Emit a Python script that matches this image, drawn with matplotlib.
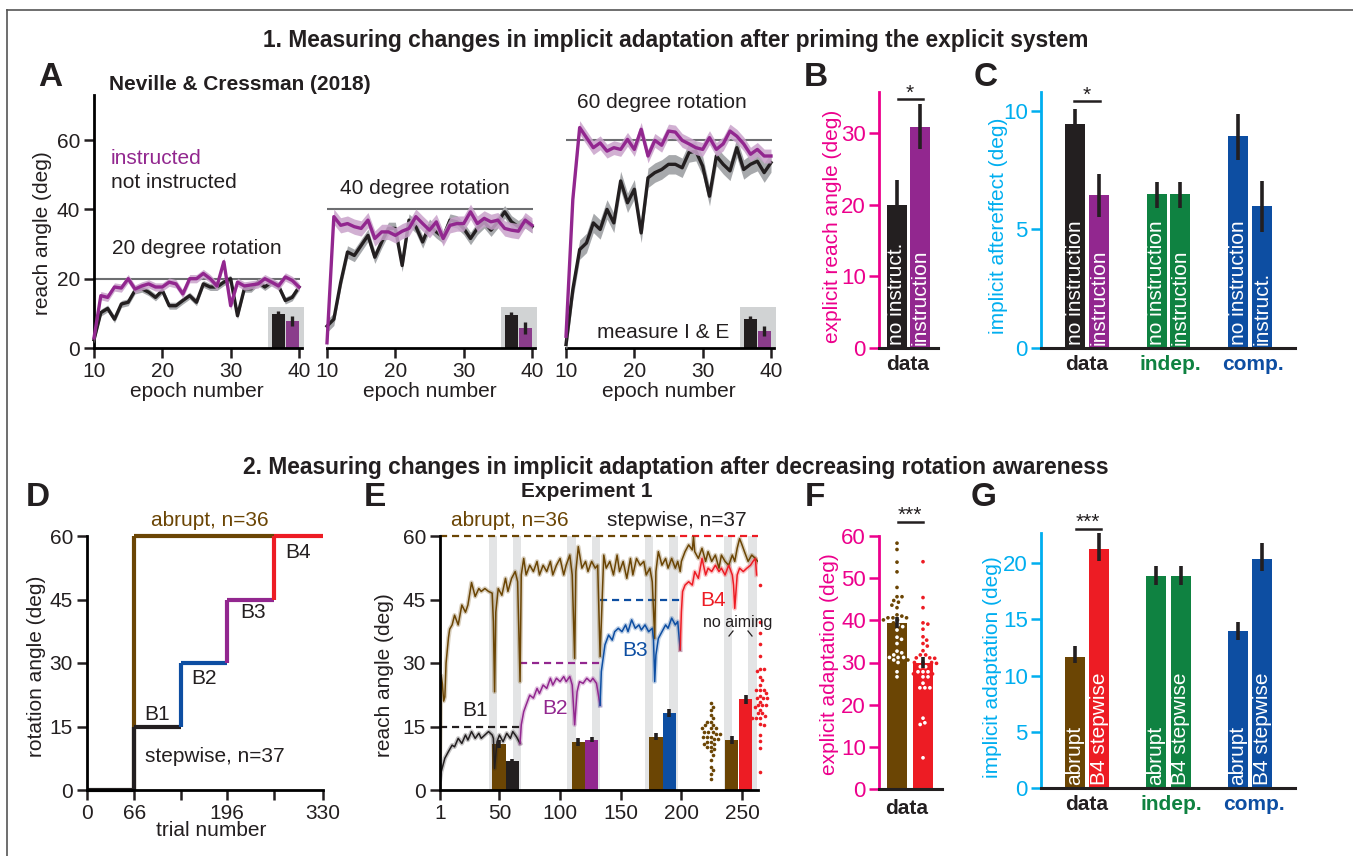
import numpy as np
import matplotlib.pyplot as plt
from matplotlib.lines import Line2D
from matplotlib.patches import Rectangle

plt.rcParams['font.family'] = ['Liberation Sans', 'DejaVu Sans']
plt.rcParams['font.size'] = 15

# ---------------- data ----------------
epochs = list(range(10, 41))

# panel A : 20, 40, 60 degree rotation (instructed / not instructed)
a20_inst = [2.9, 15.1, 14.6, 17.6, 17.3, 20.0, 17.0, 17.9, 18.5, 17.6, 17.6, 19.0, 18.5, 15.6, 20.0, 20.0,
            21.5, 20.0, 17.9, 24.9, 12.2, 19.0, 17.9, 18.2, 18.5, 20.0, 19.0, 17.9, 20.5, 19.5, 17.6]
a20_none = [2.4, 10.2, 11.4, 8.3, 12.7, 13.2, 16.6, 17.1, 16.1, 14.6, 16.6, 12.2, 12.2, 13.7, 15.1, 13.2,
            18.5, 17.6, 17.6, 19.0, 20.0, 9.3, 17.1, 17.1, 19.0, 17.6, 19.0, 17.9, 13.7, 14.6, 17.6]
a40_inst = [1.5, 37.9, 35.4, 35.9, 35.0, 34.5, 36.9, 31.6, 33.5, 33.5, 32.5, 33.7, 34.5, 37.9, 35.9, 34.0,
            36.4, 31.6, 35.4, 35.9, 35.9, 39.3, 35.9, 37.4, 36.4, 36.9, 34.5, 34.0, 33.7, 36.9, 35.4]
a40_none = [6.3, 8.3, 18.9, 27.7, 26.7, 29.6, 32.5, 26.2, 30.6, 34.5, 34.5, 23.8, 36.9, 35.0, 30.6, 35.4,
            33.5, 32.0, 36.9, 36.4, 34.5, 31.6, 34.5, 36.4, 34.0, 36.4, 39.3, 36.4, 35.0, 36.4, 35.0]
a60_inst = [3.4, 42.9, 63.6, 60.7, 57.8, 59.2, 56.8, 57.8, 57.3, 60.2, 57.3, 63.1, 55.4, 59.9, 58.5, 62.6,
            62.3, 59.9, 58.9, 57.8, 57.3, 60.7, 57.3, 58.9, 62.6, 61.1, 58.9, 55.9, 57.3, 55.4, 55.4]
a60_none = [1.0, 16.9, 28.4, 30.3, 36.1, 34.2, 40.0, 36.1, 48.2, 41.9, 45.8, 33.2, 49.1, 50.6, 51.5, 53.0,
            53.0, 52.0, 56.4, 56.8, 52.5, 43.8, 55.4, 53.0, 51.1, 57.8, 51.5, 53.0, 53.9, 50.6, 53.5]
a_sem_inst = [1.2, 2.2, 2.0]
a_sem_none = [1.0, 1.8, 2.8]
a_rotations = [20, 40, 60]
a_inset_vals = [[9.8, 7.8], [9.5, 5.7], [8.3, 4.9]]
a_inset_err = [[1.0, 1.5], [1.0, 1.7], [0.9, 1.5]]

# panel B / C
b_vals = [19.9, 30.8]
b_lo = [16.4, 27.7]
b_hi = [23.4, 34.0]
b_names = ['no instruct.', 'instruction']
c_vals = [9.45, 6.46, 6.5, 6.5, 8.95, 6.0]
c_lo = [8.8, 5.54, 5.92, 5.92, 7.93, 4.9]
c_hi = [10.1, 7.33, 6.99, 6.99, 9.87, 7.05]
c_names = ['no instruction', 'instruction', 'no instruction', 'instruction', 'no instruction', 'instruct.']
groups = ['data', 'indep.', 'comp.']

# panel D : rotation schedule
d_step_edges = [0, 66, 131, 196, 262, 330]
d_step_rot = [0, 15, 30, 45, 60]
d_abrupt_edges = [0, 66, 262]
d_abrupt_rot = [0, 60]

# panel E : reach angle time courses
e_abrupt_t = [1, 2, 3, 4, 5, 6, 7, 8, 9, 11, 13, 16, 19, 22, 24, 27, 30, 33, 35, 38, 41, 44, 45, 46, 47,
              49, 52, 55, 57, 60, 63, 65, 67, 68, 70, 72, 75, 78, 81, 83, 86, 89, 92, 94, 97, 100, 103,
              105, 108, 110, 112, 113, 115, 118, 121, 123, 126, 129, 131, 133, 136, 138, 141, 144, 147,
              149, 152, 155, 158, 160, 163, 166, 169, 171, 174, 176, 178, 179, 181, 184, 187, 189, 192,
              195, 197, 199, 200, 203, 206, 209, 210, 211, 214, 217, 220, 222, 225, 228, 231, 233, 236,
              239, 242, 244, 246, 248, 250, 252, 255, 258, 261, 263]
e_abrupt_v = [8, 27, 25, 21, 22, 30, 33, 36, 38, 39, 41.3, 39, 43.7, 42, 43.7, 49, 45.7, 47.6, 46.9, 47.6,
              46.9, 46.5, 39.8, 23.2, 42, 47.6, 46, 50, 46.9, 50, 51.6, 49.2, 25.6, 50.8, 54.7, 50.8, 53.1,
              51.6, 54, 50.8, 53.1, 51.6, 54, 50.8, 53.1, 54.7, 50.8, 53.1, 55.5, 50.8, 31.1, 51.6, 57.5,
              52.4, 54, 51.6, 54, 52.4, 53.1, 31.5, 55.5, 52.4, 54, 50.8, 55.5, 51.6, 54, 50, 54.7, 50.8,
              54.7, 53.1, 54, 50.8, 52.4, 49.2, 35.8, 51.6, 56.3, 53.1, 54.7, 52.4, 54.7, 52.4, 54, 51.6,
              54, 56.3, 57.9, 56.7, 59.8, 56.3, 54.7, 57.1, 54, 56.3, 54, 55.5, 52.4, 55.5, 54, 53.1, 55.5,
              54, 57.1, 59.4, 57.9, 56.3, 54, 55.5, 54.7, 54]
e_b1_t = [1, 2, 5, 8, 11, 13, 16, 19, 22, 24, 27, 30, 33, 35, 38, 41, 44, 45, 46, 48, 50, 53, 56, 59, 61, 64, 67]
e_b1_v = [2.4, 4.3, 7.5, 9.1, 10.6, 10.2, 12.2, 11, 13, 11.8, 13.8, 12.2, 13.4, 12.2, 13, 13.8, 13, 12.2,
          5.1, 11.4, 13, 11.4, 13.4, 12.2, 13.8, 12.6, 11]
e_b2_t = [67, 68, 70, 72, 75, 78, 81, 83, 86, 89, 92, 94, 97, 100, 103, 105, 108, 110, 112, 114, 116, 119,
          122, 125, 127, 130, 133]
e_b2_v = [11, 15.4, 18.5, 20.1, 22.4, 21.7, 24, 22.8, 24.8, 24, 26.4, 24.8, 26.4, 25.6, 26.8, 25.6, 26.8,
          24.8, 15.4, 23.2, 25.6, 25.2, 26.4, 25.6, 26.4, 25.2, 20]
e_b3_t = [133, 134, 137, 140, 143, 145, 148, 151, 154, 156, 159, 162, 165, 167, 170, 173, 176, 177, 178,
          179, 181, 184, 187, 189, 192, 195, 197, 199]
e_b3_v = [20, 28, 34.3, 36.6, 35.4, 37.4, 38.2, 37.4, 39, 37.4, 40.2, 38.2, 39, 37.8, 39, 37.4, 38.2, 35.8,
          25.6, 31.9, 35.8, 37.4, 39, 38.2, 40.6, 39, 39.8, 33.1]
e_b4_t = [199, 200, 201, 203, 206, 209, 211, 214, 217, 220, 222, 225, 228, 231, 233, 236, 239, 242, 243,
          244, 246, 248, 251, 254, 257, 259, 261, 262]
e_b4_v = [33.1, 42.1, 46.9, 48.4, 49.2, 48.4, 51.6, 50, 54.7, 50.8, 52.4, 51.6, 53.1, 51.6, 52.4, 50.8,
          53.1, 50.8, 48.4, 42.9, 50.8, 52.4, 51.6, 52.4, 53.1, 54, 54.7, 50.8]
e_noaim_blocks = [(41, 48), (61, 68), (106, 113), (126, 133), (170, 177), (190, 197), (235, 242), (255, 262)]
e_bar_vals = [10.8, 6.8, 11.4, 11.9, 12.6, 18.2, 11.8, 21.4]
e_bar_err = [0.9, 0.5, 0.9, 0.6, 0.8, 0.9, 0.9, 1.1]
e_abrupt_dots = [20.5, 19.7, 18.9, 17.7, 16.9, 16.1, 16.1, 15.3, 15.3, 14.6, 14.6, 14.6, 13.8, 13.8, 13.8,
                 13.2, 13.2, 12.6, 12.6, 12.6, 12.0, 12.0, 11.4, 11.4, 10.8, 10.8, 10.2, 10.2, 9.7, 9.1,
                 8.3, 7.1, 5.5, 4.7, 3.8, 2.6]
e_step_dots = [48.4, 39.8, 37.0, 34.5, 31.7, 28.7, 28.7, 28.0, 26.8, 26.0, 24.8, 23.6, 23.6, 23.6, 22.8,
               22.2, 21.7, 21.7, 21.7, 20.9, 20.1, 20.1, 20.1, 19.5, 18.9, 18.1, 18.1, 17.5, 16.9, 16.9,
               16.9, 15.7, 15.4, 13.0, 11.6, 10.0, 4.2]

# panel F / G
f_vals = [39.4, 30.0]
f_err = [1.3, 1.3]
f_abrupt_dots = [58.3, 56.8, 53.8, 51.5, 47.8, 45.6, 45.6, 44.7, 44.3, 43.6, 43.0, 41.3, 41.0, 40.6, 40.6,
                 40.6, 40.1, 40.1, 39.4, 38.9, 38.5, 37.7, 36.0, 35.5, 34.5, 32.7, 32.3, 31.8, 31.2, 31.2,
                 31.2, 30.6, 30.6, 30.0, 27.8, 26.6]
f_step_dots = [53.9, 45.4, 43.0, 39.4, 39.1, 37.9, 36.1, 35.3, 34.5, 33.9, 32.8, 31.8, 31.8, 31.1, 31.1,
               31.0, 30.0, 30.0, 30.0, 29.8, 29.0, 29.0, 27.8, 27.8, 27.8, 27.3, 27.3, 26.6, 26.6, 25.1,
               24.0, 24.0, 24.0, 16.8, 15.7, 15.3, 7.4]
g_vals = [11.7, 21.3, 18.9, 18.9, 14.0, 20.4]
g_lo = [11.1, 20.2, 18.1, 18.1, 13.2, 19.3]
g_hi = [12.6, 22.85, 19.8, 19.8, 14.8, 21.8]
g_names = ['abrupt', 'B4 stepwise'] * 3

# ---------------- style ----------------
BLACK = '#231F20'
PURPLE = '#92278F'
BROWN = '#6B4504'
RED = '#ED1C24'
BLUE = '#0D4EA2'
GREEN = '#0F8241'
MAG = '#EC008C'
CYAN = '#00AEEF'
BAND = '#E3E4E5'
GLINE = '#6D6E71'

W, H = 1353, 856
fig = plt.figure(figsize=(W / 100, H / 100), dpi=100)


def add_ax(x0, y0, x1, y1):
    return fig.add_axes([x0 / W, 1 - y1 / H, (x1 - x0) / W, (y1 - y0) / H])


def ftext(x, y, s, **kw):
    kw.setdefault('ha', 'center')
    kw.setdefault('va', 'center')
    kw.setdefault('color', BLACK)
    fig.text(x / W, 1 - y / H, s, **kw)


def fline(xs, ys, **kw):
    fig.add_artist(Line2D([x / W for x in xs], [1 - y / H for y in ys], **kw))


def swarm(vals, d, sy):
    # simple beeswarm, offsets in pixels
    placed = []
    offs = np.zeros(len(vals))
    for i in np.argsort(vals)[::-1]:
        y = vals[i] * sy
        near = [(px, py) for px, py in placed if abs(py - y) < d]
        cands = [0.0]
        for px, py in near:
            dx = np.sqrt(d * d - (py - y) ** 2)
            cands += [px + dx, px - dx]
        cands.sort(key=abs)
        for c in cands:
            if all((c - px) ** 2 + (y - py) ** 2 >= d * d - 1e-6 for px, py in near):
                offs[i] = c
                placed.append((c, y))
                break
    return offs


def bar_axes(ax, col, ticks):
    for s in ['top', 'right']:
        ax.spines[s].set_visible(False)
    ax.spines['left'].set_color(col)
    ax.spines['left'].set_linewidth(2)
    ax.spines['bottom'].set_color(BLACK)
    ax.spines['bottom'].set_linewidth(2.2)
    ax.set_xticks([])
    ax.set_yticks(ticks)
    ax.tick_params(axis='y', colors=col, length=7.5, width=1.8, labelsize=16, pad=2)


# frame
fline([7, 7], [10, 856], color='#555555', lw=1.2)
fline([7, 1353], [10, 10], color='#555555', lw=1.2)

ftext(676, 40, '1. Measuring changes in implicit adaptation after priming the explicit system',
      weight='bold', size=16.4)
ftext(676, 467, '2. Measuring changes in implicit adaptation after decreasing rotation awareness',
      weight='bold', size=16.4)

# ---------------- A ----------------
a_inst = [a20_inst, a40_inst, a60_inst]
a_none = [a20_none, a40_none, a60_none]
pxe = 205 / 30
for i, x0 in enumerate([94, 327, 566]):
    ax = add_ax(x0, 95, x0 + 31 * pxe, 348)
    ax.set_xlim(10, 41)
    ax.set_ylim(0, 73)
    ax.patch.set_alpha(0)
    ax.hlines(a_rotations[i], 10, 40.2, color=GLINE, lw=1.5, zorder=1)
    ax.add_patch(Rectangle((35.4, 0), 5.3, 11.9, color='#D1D3D4', lw=0, zorder=1))
    ax.bar([37, 39], a_inset_vals[i], width=1.95, color=[BLACK, '#8A3C8B'], zorder=2)
    ax.vlines([37, 39], np.array(a_inset_vals[i]) - np.array(a_inset_err[i]),
              np.array(a_inset_vals[i]) + np.array(a_inset_err[i]), color=BLACK, lw=2.4, zorder=3)
    ni = np.array(a_none[i])
    ii = np.array(a_inst[i])
    ax.fill_between(epochs, ni - a_sem_none[i], ni + a_sem_none[i], color='#A7A9AC', lw=0, zorder=3)
    ax.plot(epochs, ni, color=BLACK, lw=2.4, zorder=4, clip_on=False)
    ax.fill_between(epochs, ii - a_sem_inst[i], ii + a_sem_inst[i], color='#C9A3CB', lw=0, alpha=0.85, zorder=5)
    ax.plot(epochs, ii, color=PURPLE, lw=2.4, zorder=6, clip_on=False)
    for s in ['top', 'right']:
        ax.spines[s].set_visible(False)
    ax.spines['bottom'].set_bounds(10, 40.4)
    ax.spines['bottom'].set_linewidth(2)
    ax.spines['left'].set_linewidth(2)
    ax.set_xticks([10, 20, 30, 40])
    ax.tick_params(length=7, width=1.8, pad=3, labelsize=15, color=BLACK, labelcolor=BLACK)
    if i == 0:
        ax.set_yticks([0, 20, 40, 60])
    else:
        ax.spines['left'].set_visible(False)
        ax.set_yticks([])
    ftext(x0 + 15 * pxe, 392, 'epoch number')

ftext(50, 78, 'A', size=24, weight='bold')
ftext(240, 84, 'Neville & Cressman (2018)', weight='bold')
ftext(43, 233, 'reach angle (deg)', rotation=90)
ftext(111, 158, 'instructed', color=PURPLE, ha='left')
ftext(111, 182, 'not instructed', ha='left')
ftext(197, 249, '20 degree rotation')
ftext(425, 188, '40 degree rotation')
ftext(662, 103, '60 degree rotation')
ftext(663, 332, 'measure I & E')

# ---------------- B ----------------
axB = add_ax(879, 92, 938, 348)
axB.set_xlim(-0.78, 1.78)
axB.set_ylim(0, 35.7)
axB.bar([0, 1], b_vals, width=0.87, color=[BLACK, PURPLE])
axB.vlines([0, 1], b_lo, b_hi, color=BLACK, lw=2.6)
for x, nm in zip([0, 1], b_names):
    axB.annotate(nm, (x, 0), xytext=(0, 2), textcoords='offset points', rotation=90,
                 ha='center', va='bottom', color='white', size=15)
bar_axes(axB, MAG, [0, 10, 20, 30])
ftext(816, 78, 'B', size=24, weight='bold')
ftext(832, 226, 'explicit reach angle (deg)', rotation=90, color=MAG)
ftext(908, 365, 'data', weight='bold')
fline([898, 923], [99, 99], color=BLACK, lw=1.8)
ftext(910, 99, '*', va='baseline')

# ---------------- C ----------------
gpx = 81.5
axC = add_ax(1041, 92, 1295, 348)
axC.set_xlim(-46 / gpx, 254 / gpx - 46 / gpx)
axC.set_ylim(0, 10.8)
cx = np.repeat([0, 1, 2], 2) + np.tile([-0.144, 0.144], 3)
axC.bar(cx, c_vals, width=0.245, color=[BLACK, PURPLE, GREEN, GREEN, BLUE, BLUE])
axC.vlines(cx, c_lo, c_hi, color=BLACK, lw=2.6)
for x, nm in zip(cx, c_names):
    axC.annotate(nm, (x, 0), xytext=(0, 2), textcoords='offset points', rotation=90,
                 ha='center', va='bottom', color='white', size=15)
bar_axes(axC, CYAN, [0, 5, 10])
ftext(986, 78, 'C', size=24, weight='bold')
ftext(998, 226, 'implicit aftereffect (deg)', rotation=90, color=CYAN)
for gx, g, col in zip([1087, 1170, 1253], groups, [BLACK, GREEN, BLUE]):
    ftext(gx, 365, g, weight='bold', color=col)
fline([1074, 1100], [101, 101], color=BLACK, lw=1.8)
ftext(1087, 101, '*', va='baseline')

# ---------------- D ----------------
axD = add_ax(87, 536, 323, 790)
axD.set_xlim(0, 330)
axD.set_ylim(0, 60)
axD.hlines(d_abrupt_rot[1], d_abrupt_edges[1], d_abrupt_edges[2], color=BROWN, lw=3, clip_on=False)
axD.vlines(d_abrupt_edges[1], d_abrupt_rot[0], d_abrupt_rot[1], color=BROWN, lw=3)
step_cols = [BLACK, BLACK, BLUE, PURPLE, RED]
for k in range(len(d_step_rot)):
    axD.hlines(d_step_rot[k], d_step_edges[k], d_step_edges[k + 1], color=step_cols[k], lw=3, clip_on=False)
    if k > 0:
        axD.vlines(d_step_edges[k], d_step_rot[k - 1], d_step_rot[k], color=step_cols[k], lw=3, clip_on=False)
for s in ['top', 'right']:
    axD.spines[s].set_visible(False)
axD.spines['left'].set_linewidth(2)
axD.spines['bottom'].set_linewidth(2)
axD.set_xticks([0, 66, 131, 196, 262, 330])
axD.set_xticklabels(['0', '66', '', '196', '', '330'])
axD.set_yticks([0, 15, 30, 45, 60])
axD.tick_params(length=7, width=1.8, pad=3, labelsize=15, color=BLACK, labelcolor=BLACK)
ftext(38, 497, 'D', size=24, weight='bold')
ftext(37, 666, 'rotation angle (deg)', rotation=90)
ftext(211, 830, 'trial number')
ftext(210, 520, 'abrupt, n=36', color=BROWN)
ftext(157, 715, 'B1')
ftext(204, 678, 'B2')
ftext(253, 613, 'B3')
ftext(298, 552, 'B4')
ftext(215, 757, 'stepwise, n=37')

# ---------------- E ----------------
pxt = 1.213
axE = add_ax(440, 536, 758, 790)
axE.set_xlim(1, 1 + 318 / pxt)
axE.set_ylim(0, 60)
for a, b in e_noaim_blocks:
    axE.axvspan(a, b, color=BAND, lw=0, zorder=0)
dash = (0, (3.2, 2.2))
axE.hlines(60, 1, 196, color=BROWN, lw=1.6, ls=dash, clip_on=False)
axE.hlines(60, 199, 263, color=RED, lw=1.6, ls=dash, clip_on=False)
axE.hlines(15, 1, 67, color=BLACK, lw=1.6, ls=dash)
axE.hlines(30, 67, 133, color=PURPLE, lw=1.6, ls=dash)
axE.hlines(45, 133, 199, color=BLUE, lw=1.6, ls=dash)
bx = [49.5, 60.5, 115, 126, 179, 190, 241.5, 253]
axE.bar(bx, e_bar_vals, width=11, color=[BROWN, BLACK, BROWN, PURPLE, BROWN, BLUE, BROWN, RED], zorder=1)
axE.vlines(bx, np.array(e_bar_vals) - np.array(e_bar_err), np.array(e_bar_vals) + np.array(e_bar_err),
           color=BLACK, lw=2.6, zorder=1.5)
for t, v, col in [(e_abrupt_t, e_abrupt_v, BROWN), (e_b1_t, e_b1_v, BLACK), (e_b2_t, e_b2_v, PURPLE),
                  (e_b3_t, e_b3_v, BLUE), (e_b4_t, e_b4_v, RED)]:
    axE.plot(t, v, color=col, lw=3.2, alpha=0.25, zorder=2, solid_joinstyle='round')
    axE.plot(t, v, color=col, lw=1.1, zorder=2.5)
sy = 254 / 60
for vals, cx0, col in [(e_abrupt_dots, 224.5, BROWN), (e_step_dots, 264.8, RED)]:
    off = swarm(np.array(vals), 4.0, sy)
    axE.plot(cx0 + off / pxt, vals, 'o', ms=2.6, color=col, mew=0, clip_on=False, zorder=3)
for s in ['top', 'right']:
    axE.spines[s].set_visible(False)
axE.spines['left'].set_linewidth(2)
axE.spines['bottom'].set_linewidth(2)
axE.set_xticks([1, 50, 100, 150, 200, 250])
axE.set_yticks([0, 15, 30, 45, 60])
axE.tick_params(length=7, width=1.8, pad=3, labelsize=15, color=BLACK, labelcolor=BLACK)
ftext(375, 497, 'E', size=24, weight='bold')
ftext(587, 491, 'Experiment 1', weight='bold')
ftext(385, 675, 'reach angle (deg)', rotation=90)
ftext(510, 520, 'abrupt, n=36', color=BROWN)
ftext(677, 520, 'stepwise, n=37')
ftext(475, 710, 'B1')
ftext(555, 709, 'B2', color=PURPLE)
ftext(635, 650, 'B3', color=BLUE)
ftext(713, 600, 'B4', color=RED)
ftext(738, 622, 'no aiming', size=11.5)
fline([729, 733], [636, 631], color=BLACK, lw=0.9)
fline([748, 752], [631, 636], color=BLACK, lw=0.9)

# ---------------- F ----------------
axF = add_ax(879, 536, 942, 789)
axF.set_xlim(-18 / 26, 45 / 26)
axF.set_ylim(0, 60)
axF.bar([0, 1], f_vals, width=20 / 26, color=[BROWN, RED], zorder=1)
syF = 253 / 60
for x0, vals, bv, col in [(0, f_abrupt_dots, f_vals[0], BROWN), (1, f_step_dots, f_vals[1], RED)]:
    vals = np.array(vals)
    off = swarm(vals, 5.0, syF)
    inside = (vals < bv) & (np.abs(off) < 9.5)
    cols = np.where(inside, 'white', col)
    axF.scatter(x0 + off / 26, vals, s=7, c=list(cols), lw=0, zorder=2, clip_on=False)
axF.vlines([0, 1], np.array(f_vals) - np.array(f_err), np.array(f_vals) + np.array(f_err),
           color=BLACK, lw=2.6, zorder=3)
bar_axes(axF, MAG, [0, 10, 20, 30, 40, 50, 60])
ftext(815, 497, 'F', size=24, weight='bold')
ftext(830, 664, 'explicit adaptation (deg)', rotation=90, color=MAG)
ftext(907, 808, 'data', weight='bold')
fline([898, 923], [522, 522], color=BLACK, lw=1.8)
ftext(910, 521, '***', va='baseline')

# ---------------- G ----------------
axG = add_ax(1041, 533, 1295, 788)
axG.set_xlim(-46 / gpx, 254 / gpx - 46 / gpx)
axG.set_ylim(0, 22.7)
gx = np.repeat([0, 1, 2], 2) + np.tile([-0.152, 0.152], 3)
axG.bar(gx, g_vals, width=0.245, color=[BROWN, RED, GREEN, GREEN, BLUE, BLUE])
axG.vlines(gx, g_lo, g_hi, color=BLACK, lw=2.6)
for x, nm in zip(gx, g_names):
    axG.annotate(nm, (x, 0), xytext=(0, 2), textcoords='offset points', rotation=90,
                 ha='center', va='bottom', color='white', size=15)
bar_axes(axG, CYAN, [0, 5, 10, 15, 20])
ftext(984, 497, 'G', size=24, weight='bold')
ftext(992, 667, 'implicit adaptation (deg)', rotation=90, color=CYAN)
for gxx, g, col in zip([1087, 1171, 1254], groups, [BLACK, GREEN, BLUE]):
    ftext(gxx, 805, g, weight='bold', color=col)
fline([1076, 1101], [529, 529], color=BLACK, lw=1.8)
ftext(1088, 528, '***', va='baseline')

fig.savefig('out.png', dpi=100)
